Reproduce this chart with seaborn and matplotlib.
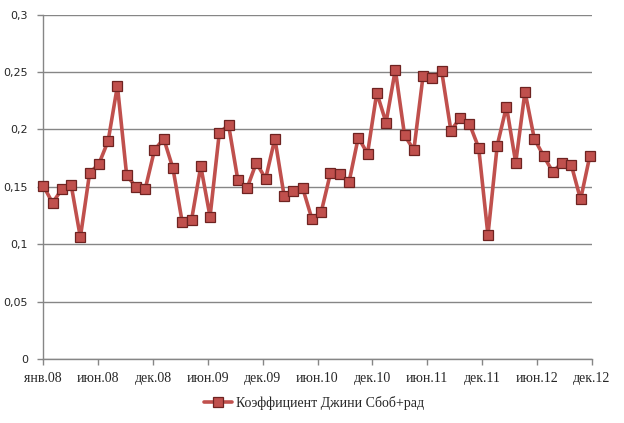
import numpy as np
import pandas as pd
import matplotlib
matplotlib.use("Agg")
import matplotlib.pyplot as plt
import seaborn as sns
from matplotlib.lines import Line2D

values = [0.151, 0.136, 0.148, 0.152, 0.106, 0.162, 0.170, 0.190, 0.238, 0.160,
          0.150, 0.148, 0.182, 0.192, 0.166, 0.119, 0.121, 0.168, 0.124, 0.197,
          0.204, 0.156, 0.149, 0.171, 0.157, 0.192, 0.142, 0.146, 0.149, 0.122,
          0.128, 0.162, 0.161, 0.154, 0.193, 0.179, 0.232, 0.206, 0.252, 0.195,
          0.182, 0.247, 0.245, 0.251, 0.199, 0.210, 0.205, 0.184, 0.108, 0.186,
          0.220, 0.171, 0.233, 0.192, 0.177, 0.163, 0.171, 0.169, 0.139, 0.177]
tick_labels = ["янв.08", "июн.08", "дек.08", "июн.09", "дек.09", "июн.10",
               "дек.10", "июн.11", "дек.11", "июн.12", "дек.12"]
y_ticks = [0, 0.05, 0.1, 0.15, 0.2, 0.25, 0.3]
y_tick_labels = ["0", "0,05", "0,1", "0,15", "0,2", "0,25", "0,3"]
series_name = "Коэффициент Джини Сбоб+рад"

df = pd.DataFrame({"month": np.arange(len(values)), "value": values,
                   "series": series_name})

sns.set_style("white")
fig = plt.figure(figsize=(6.24, 4.23), dpi=100)
ax = fig.add_axes([43.3 / 624, 1 - 359 / 423, (591.7 - 43.3) / 624, (359 - 14.7) / 423])

line_color = "#C0504D"
edge_color = "#6E2321"
sns.lineplot(data=df, x="month", y="value", hue="series", palette=[line_color],
             marker="s", markersize=6.6, markerfacecolor=line_color,
             markeredgecolor=edge_color, markeredgewidth=0.9,
             linewidth=2.6, ax=ax, legend=False, clip_on=False, zorder=3)

n = len(values) - 1
ax.set_xlim(0, n + 0.2)
ax.set_ylim(0, 0.3)
ax.set_xticks(np.linspace(0, n + 0.2, len(tick_labels)))
ax.set_xticklabels(tick_labels, fontfamily="Liberation Serif", fontsize=10)
ax.set_yticks(y_ticks)
ax.set_yticklabels(y_tick_labels, fontfamily="DejaVu Sans", fontsize=8)
ax.set_xlabel("")
ax.set_ylabel("")

grid_color = "#868686"
ax.yaxis.grid(True, color=grid_color, linewidth=1)
ax.xaxis.grid(False)
ax.set_axisbelow(True)
for side in ["top", "right"]:
    ax.spines[side].set_visible(False)
for side in ["left", "bottom"]:
    ax.spines[side].set_color(grid_color)
    ax.spines[side].set_linewidth(1)
    ax.spines[side].set_zorder(1)
ax.tick_params(axis="both", direction="out", length=4, width=1, color=grid_color)
ax.tick_params(axis="y", pad=7, left=True)
ax.tick_params(axis="x", pad=5, bottom=True)

handle = Line2D([], [], color=line_color, linewidth=2.6, marker="s", markersize=6.6,
                markerfacecolor=line_color, markeredgecolor=edge_color,
                markeredgewidth=0.9)
fig.legend([handle], [series_name], loc="center",
           bbox_to_anchor=(314 / 624, 1 - 403 / 423), frameon=False,
           prop={"family": "Liberation Serif", "size": 10},
           handlelength=2.0, handletextpad=0.3)

fig.savefig("out.png", dpi=100)
